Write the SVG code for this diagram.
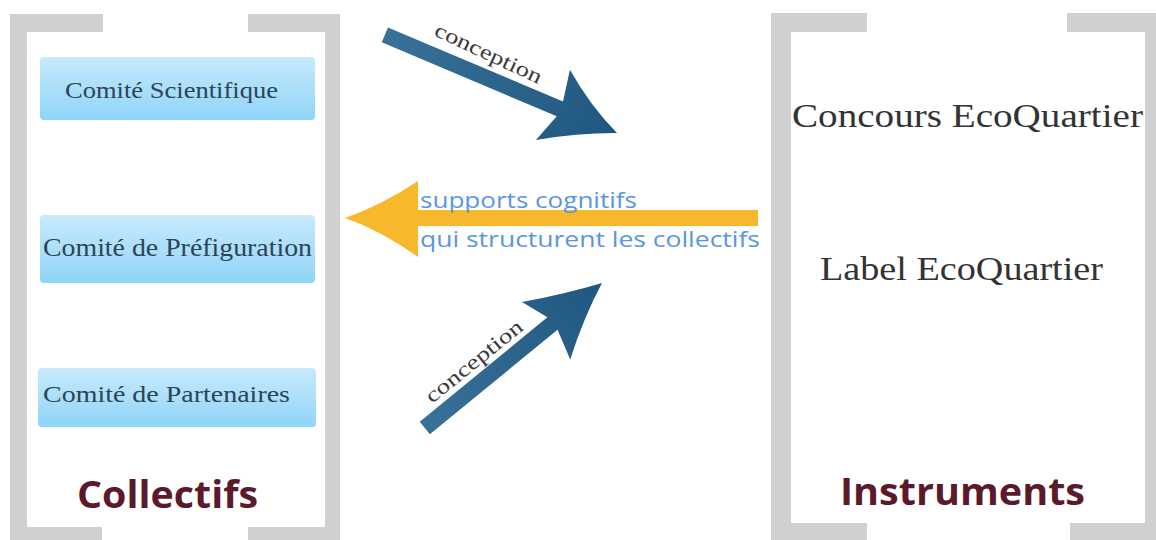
<svg xmlns="http://www.w3.org/2000/svg" width="1156" height="540" viewBox="0 0 1156 540">
<defs>
<linearGradient id="boxg" x1="0" y1="0" x2="0" y2="1">
<stop offset="0" stop-color="#c8eafc"/>
<stop offset="1" stop-color="#8fd4f8"/>
</linearGradient>
<linearGradient id="blueg" x1="0" y1="0" x2="1" y2="0">
<stop offset="0" stop-color="#3a7198"/>
<stop offset="1" stop-color="#1f5780"/>
</linearGradient>
</defs>
<style>
.br{fill:#d0d0d0}
.box{fill:url(#boxg)}
.bt{font-family:"Liberation Serif","DejaVu Serif",serif;fill:#2c4458}
.it{font-family:"Liberation Serif","DejaVu Serif",serif;fill:#333333;font-size:34px}
.ti{font-family:"Open Sans","DejaVu Sans",sans-serif;font-weight:bold;fill:#5b1a2b;font-size:38px}
.lab{font-family:"Liberation Serif","DejaVu Serif",serif;fill:#3a3a3a;font-size:21px}
.sc{font-family:"Open Sans","DejaVu Sans",sans-serif;fill:#5a96e3;font-size:22px}
</style>
<rect width="1156" height="540" fill="#ffffff"/>
<g id="brackets">
<path class="br" d="M10 14 H103 V32 H27 V527 H102 V545 H10 Z"/>
<path class="br" d="M248 14 H340 V545 H248 V527 H325 V32 H248 Z"/>
<path class="br" d="M771 13 H867 V32 H791 V523 H867 V545 H771 Z"/>
<path class="br" d="M1067 13 H1160 V545 H1070 V523 H1145 V32 H1067 Z"/>
</g>
<g id="collectifs">
<g id="node-scientifique">
<rect class="box" x="40" y="57" width="275" height="63" rx="4"/>
<text class="bt" x="65" y="98" font-size="23" textLength="213" lengthAdjust="spacingAndGlyphs">Comité Scientifique</text>
</g>
<g id="node-prefiguration">
<rect class="box" x="40" y="215" width="275" height="68" rx="4"/>
<text class="bt" x="43" y="256" font-size="25" textLength="269" lengthAdjust="spacingAndGlyphs">Comité de Préfiguration</text>
</g>
<g id="node-partenaires">
<rect class="box" x="38" y="368" width="278" height="59" rx="4"/>
<text class="bt" x="43" y="402" font-size="23" textLength="247" lengthAdjust="spacingAndGlyphs">Comité de Partenaires</text>
</g>
<text id="title-collectifs" class="ti" x="77" y="508" textLength="181" lengthAdjust="spacingAndGlyphs">Collectifs</text>
</g>
<g id="instruments">
<text id="node-concours" class="it" x="792" y="127" textLength="351" lengthAdjust="spacingAndGlyphs">Concours EcoQuartier</text>
<text id="node-label" class="it" x="820" y="280" textLength="283" lengthAdjust="spacingAndGlyphs">Label EcoQuartier</text>
<text id="title-instruments" class="ti" x="840" y="505" textLength="245" lengthAdjust="spacingAndGlyphs">Instruments</text>
</g>
<g id="connectors">
<g id="arrow-top">
<path fill="url(#blueg)" transform="translate(617,133) rotate(22.9)" d="M0 0 Q-36 -15 -68 -40 L-62 -8 L-252 -8 L-252 8 L-62 8 L-72 38 Q-36 15 0 0 Z"/>
<text class="lab" transform="translate(433,35) rotate(25)" x="0" y="0" textLength="116" lengthAdjust="spacingAndGlyphs">conception</text>
</g>
<g id="arrow-yellow">
<path fill="#f8b82e" d="M345 218 Q382 205 418 181 L418 210 L758 210 L758 226 L418 226 L418 257 Q382 231 345 218 Z"/>
<text class="sc" x="420" y="208" textLength="217" lengthAdjust="spacingAndGlyphs">supports cognitifs</text>
<text class="sc" x="420" y="247" textLength="340" lengthAdjust="spacingAndGlyphs">qui structurent les collectifs</text>
</g>
<g id="arrow-bottom">
<path fill="url(#blueg)" transform="translate(602,283) rotate(-39.3)" d="M0 0 Q-36 -15 -74 -36 L-64 -8 L-229 -8 L-229 8 L-64 8 L-73 39 Q-36 15 0 0 Z"/>
<text class="lab" transform="translate(432,404) rotate(-39)" x="0" y="0" textLength="119" lengthAdjust="spacingAndGlyphs">conception</text>
</g>
</g>
</svg>
